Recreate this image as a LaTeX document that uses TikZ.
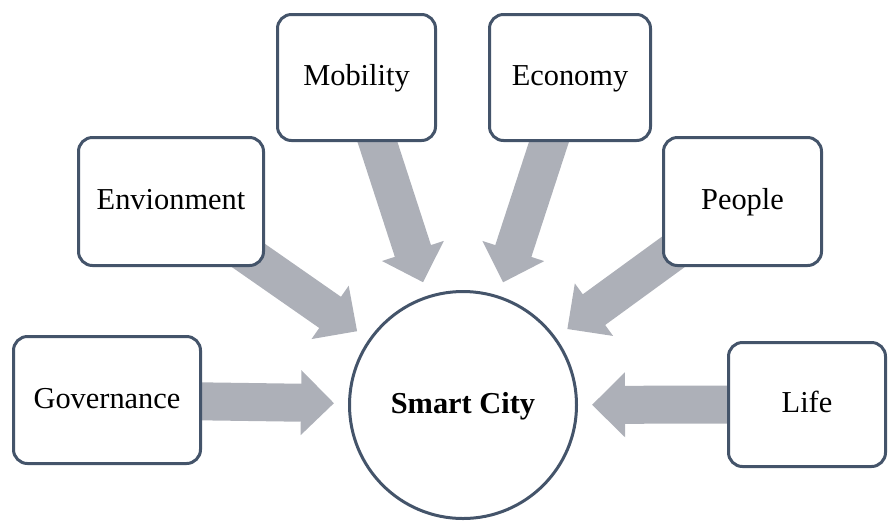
\documentclass[tikz,border=0pt]{standalone}
\usepackage{fontspec}
\setmainfont{Liberation Serif}
\usetikzlibrary{arrows.meta,backgrounds}
\definecolor{boxline}{RGB}{68,84,106}
\definecolor{flowgray}{RGB}{173,176,184}

\begin{document}
\begin{tikzpicture}[x=0.5pt,y=-0.5pt,
	box/.style={draw=boxline,line width=1.5pt,rounded corners=7pt,fill=white,text height=10.5pt,text depth=2.5pt,font=\fontsize{15.2}{18}\selectfont},
	hub/.style={draw=boxline,line width=1.5pt,circle,fill=white,minimum size=113.5pt,text height=10.5pt,text depth=2.5pt,font=\bfseries\fontsize{15.2}{18}\selectfont},
	flow/.style={draw=flowgray,line width=19pt,-{Triangle[width=31.5pt,length=16.5pt]},shorten >=7pt}]
	\useasboundingbox (0,0) rectangle (888,521);
	\node[box,minimum width=93.5pt,minimum height=63.5pt] (0) at (107, 400) {Governance};
	\node[box,minimum width=92.5pt,minimum height=64pt] (1) at (171, 201.5) {Envionment};
	\node[box,minimum width=79pt,minimum height=63pt] (2) at (356.5, 77.5) {Mobility};
	\node[box,minimum width=80.5pt,minimum height=63pt] (3) at (570, 77.5) {Economy};
	\node[box,minimum width=79pt,minimum height=64pt] (4) at (742.5, 201.5) {People};
	\node[box,minimum width=78.5pt,minimum height=62pt] (5) at (807, 404.5) {Life};
	\node[hub] (6) at (463, 405) {Smart City};
	\begin{scope}[on background layer]
	\draw [flow] (0.center) to (6);
	\draw [flow] (1.center) to (6);
	\draw [flow] (2.center) to (6);
	\draw [flow] (3.center) to (6);
	\draw [flow] (4.center) to (6);
	\draw [flow] (5.center) to (6);
	\end{scope}
\end{tikzpicture}
\end{document}
